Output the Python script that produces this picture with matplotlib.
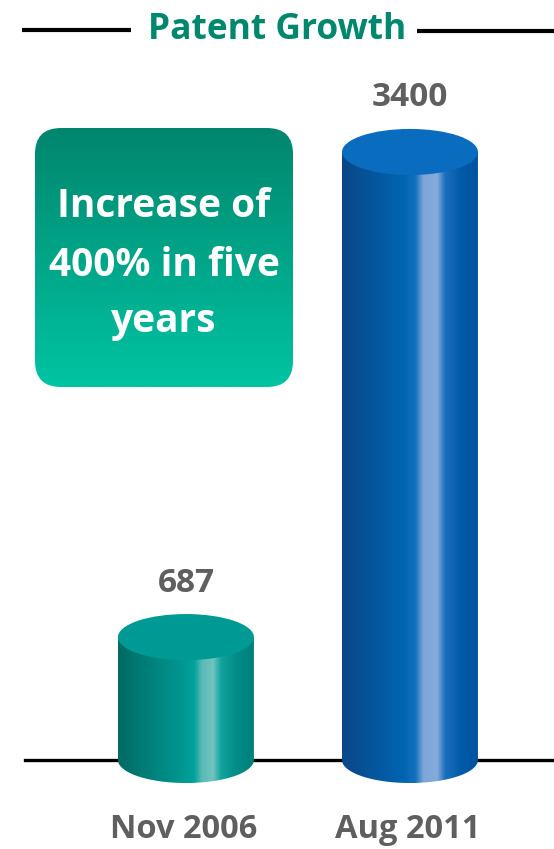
import numpy as np
import matplotlib.pyplot as plt
from matplotlib.colors import LinearSegmentedColormap
from matplotlib.patches import Ellipse, FancyBboxPatch, PathPatch
from matplotlib.path import Path

# data
categories = ['Nov 2006', 'Aug 2011']
values = [687, 3400]
value_labels = ['687', '3400']
title = 'Patent Growth'
note_lines = ['Increase of', '400% in five', 'years']

FONT = ['Open Sans', 'DejaVu Sans']
GRAY = '#5f5f5f'

# body gradients (left -> right) and top colours for each cylinder
body_stops = [
    [(0.0, '#006a64'), (0.45, '#00958f'), (0.56, '#00a19b'), (0.62, '#5cbab5'),
     (0.70, '#70c4bf'), (0.76, '#13a29c'), (0.88, '#008c86'), (1.0, '#00807a')],
    [(0.0, '#0a4786'), (0.45, '#0064b2'), (0.54, '#1270bd'), (0.60, '#7ea6d8'),
     (0.70, '#86abdb'), (0.76, '#1a6fbd'), (0.88, '#005aa8'), (1.0, '#0052a0')],
]
top_colors = ['#009a94', '#0a6cbf']

fig = plt.figure(figsize=(5.54, 8.49), dpi=100)

# data axes spanning the whole figure
ax = fig.add_axes([0, 0, 1, 1])
ax.set_xlim(-0.83, 1.643)
ax.set_ylim(-498, 4250)
ax.axis('off')

width = 0.607
ell_h = 2 * 129  # full height of the elliptical caps, in data units

ax.axhline(0, xmin=25 / 554, xmax=1, color='black', lw=2.4, zorder=1)

for i, v in enumerate(values):
    x0 = i - width / 2
    x1 = i + width / 2
    # body outline: sides plus bottom half-ellipse
    t = np.linspace(np.pi, 2 * np.pi, 60)
    bx = i + width / 2 * np.cos(t)
    by = ell_h / 2 * np.sin(t)
    verts = [(x0, v)] + list(zip(bx, by)) + [(x1, v), (x0, v)]
    codes = [Path.MOVETO] + [Path.LINETO] * (len(verts) - 2) + [Path.CLOSEPOLY]
    body = PathPatch(Path(verts, codes), facecolor='none', edgecolor='none')
    ax.add_patch(body)
    cmap = LinearSegmentedColormap.from_list('c%d' % i, body_stops[i])
    grad = np.linspace(0, 1, 256).reshape(1, -1)
    im = ax.imshow(grad, cmap=cmap, aspect='auto', interpolation='bilinear',
                   extent=(x0, x1, -ell_h / 2, v), zorder=2)
    im.set_clip_path(body)
    ax.add_patch(Ellipse((i, v), width, ell_h, facecolor=top_colors[i],
                         edgecolor='none', zorder=3))
    ax.text(i, v + 255, value_labels[i], ha='center', va='baseline',
            fontsize=24, fontweight='bold', color=GRAY, family=FONT)
    ax.text(i - 0.01, -438, categories[i], ha='center', va='baseline',
            fontsize=23.5, fontweight='bold', color=GRAY, family=FONT)

# overlay axes in pixel units for title and note box
ov = fig.add_axes([0, 0, 1, 1], facecolor='none')
ov.set_xlim(0, 554)
ov.set_ylim(849, 0)
ov.axis('off')

ov.text(277, 39, title, ha='center', va='baseline', fontsize=25.5,
        fontweight='bold', color='#00886e', family=FONT)
ov.plot([22, 131], [30, 30], color='black', lw=3, solid_capstyle='butt')
ov.plot([417, 554], [31, 31], color='black', lw=3, solid_capstyle='butt')

box = FancyBboxPatch((35, 128), 258, 259, boxstyle='round,pad=0,rounding_size=26',
                     facecolor='none', edgecolor='none')
ov.add_patch(box)
box_cmap = LinearSegmentedColormap.from_list('box', ['#00866e', '#00c4a2'])
vgrad = np.linspace(0, 1, 256).reshape(-1, 1)
bim = ov.imshow(vgrad, cmap=box_cmap, aspect='auto', extent=(35, 293, 387, 128),
                interpolation='bilinear')
bim.set_clip_path(box)
for line, yb in zip(note_lines, [217, 276, 332]):
    ov.text(164, yb, line, ha='center', va='baseline', fontsize=28,
            fontweight='bold', color='white', family=FONT)

fig.savefig('out.png', dpi=100)
